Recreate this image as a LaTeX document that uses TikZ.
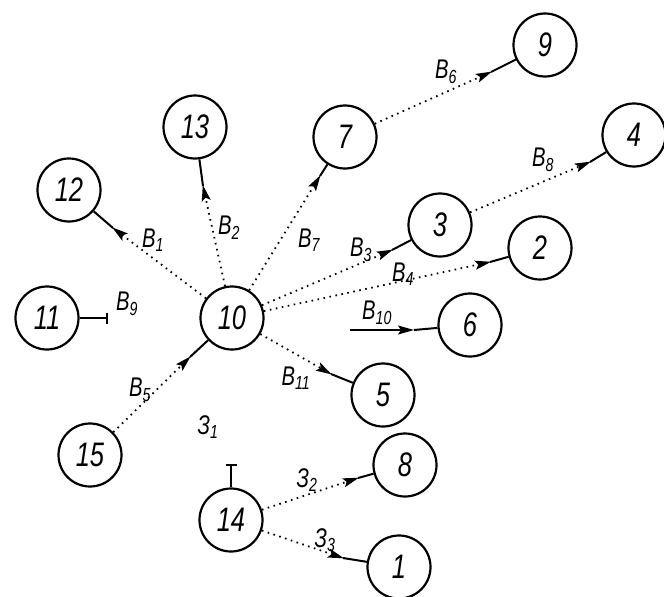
\documentclass[tikz,border=0pt]{standalone}
\usepackage{fontspec}
\setmainfont{Liberation Sans}[FakeStretch=0.75]
\usetikzlibrary{arrows.meta}
\begin{document}
\begin{tikzpicture}[x=1pt,y=-1pt,
  vert/.style={circle,draw,line width=2.2pt,minimum size=63pt,inner sep=0pt,font=\fontsize{34}{34}\selectfont\itshape},
  tipstyle/.style={-{Stealth[length=16pt,width=9pt,inset=3pt]}},
  dotlink/.style={line width=1.8pt,dash pattern=on 1.6pt off 4.5pt,tipstyle,shorten >=-1pt},
  stub/.style={line width=2pt},
  barstub/.style={line width=2.6pt,-{Bar[width=11pt,line width=1.8pt]}},
  lbl/.style={font=\fontsize{27}{27}\selectfont\itshape,inner sep=1pt}]
\useasboundingbox (0,0) rectangle (664,597);
\fill[white] (0,0) rectangle (664,597);
% nodes
\node[vert] (n9) at (545,45) {9};
\node[vert] (n7) at (345,137) {7};
\node[vert] (n4) at (634,135) {4};
\node[vert] (n13) at (195,127) {13};
\node[vert] (n12) at (69,190) {12};
\node[vert] (n11) at (47,318) {11};
\node[vert] (n10) at (232,318) {10};
\node[vert] (n3) at (440,225) {3};
\node[vert] (n2) at (540,248) {2};
\node[vert] (n6) at (470,325) {6};
\node[vert] (n5) at (383,395) {5};
\node[vert] (n15) at (90,455) {15};
\node[vert] (n14) at (231,520) {14};
\node[vert] (n8) at (405,465) {8};
\node[vert] (n1) at (399,567) {1};
% arrow points
\coordinate (a12) at (113,228);
\coordinate (a13) at (203,186);
\coordinate (a7) at (320,176);
\coordinate (a3) at (392,250);
\coordinate (a2) at (490,262);
\coordinate (a6) at (414,330);
\coordinate (s6) at (350,330);
\coordinate (a5) at (331,374);
\coordinate (a10) at (190,357);
\coordinate (a9) at (491,72);
\coordinate (a4) at (590,162);
\coordinate (a8) at (358,478);
\coordinate (a1) at (343,558);
\coordinate (e11) at (108,318);
\coordinate (e14) at (231,464);
% connectors
\draw[dotlink] (n10) -- (a12); \draw[stub] (a12) -- (n12);
\draw[dotlink] (n10) -- (a13); \draw[stub] (a13) -- (n13);
\draw[dotlink] (n10) -- (a7); \draw[stub] (a7) -- (n7);
\draw[dotlink] (n10) -- (a3); \draw[stub] (a3) -- (n3);
\draw[dotlink] (n10) -- (a2); \draw[stub] (a2) -- (n2);
\draw[line width=1.6pt,tipstyle] (s6) -- (a6); \draw[stub] (a6) -- (n6);
\draw[dotlink] (n10) -- (a5); \draw[stub] (a5) -- (n5);
\draw[dotlink] (n15) -- (a10); \draw[stub] (a10) -- (n10);
\draw[dotlink] (n7) -- (a9); \draw[stub] (a9) -- (n9);
\draw[dotlink] (n3) -- (a4); \draw[stub] (a4) -- (n4);
\draw[dotlink] (n14) -- (a8); \draw[stub] (a8) -- (n8);
\draw[dotlink] (n14) -- (a1); \draw[stub] (a1) -- (n1);
\draw[barstub] (n11) -- (e11);
\draw[barstub] (n14) -- (e14);
% labels
\node[lbl] (l1) at (153,240) {B\textsubscript{1}};
\node[lbl] (l2) at (229,228) {B\textsubscript{2}};
\node[lbl] (l7) at (309,240) {B\textsubscript{7}};
\node[lbl] (l9) at (127,304) {B\textsubscript{9}};
\node[lbl] (l3) at (361,250) {B\textsubscript{3}};
\node[lbl] (l4) at (403,274) {B\textsubscript{4}};
\node[lbl] (l10) at (377,313) {B\textsubscript{10}};
\node[lbl] (l11) at (296,378) {B\textsubscript{11}};
\node[lbl] (l5) at (140,390) {B\textsubscript{5}};
\node[lbl] (l6) at (446,72) {B\textsubscript{6}};
\node[lbl] (l8) at (543,160) {B\textsubscript{8}};
\node[lbl] (z1) at (208,427) {З\textsubscript{1}};
\node[lbl] (z2) at (307,480) {З\textsubscript{2}};
\node[lbl] (z3) at (325,540) {З\textsubscript{3}};
\end{tikzpicture}
\end{document}
